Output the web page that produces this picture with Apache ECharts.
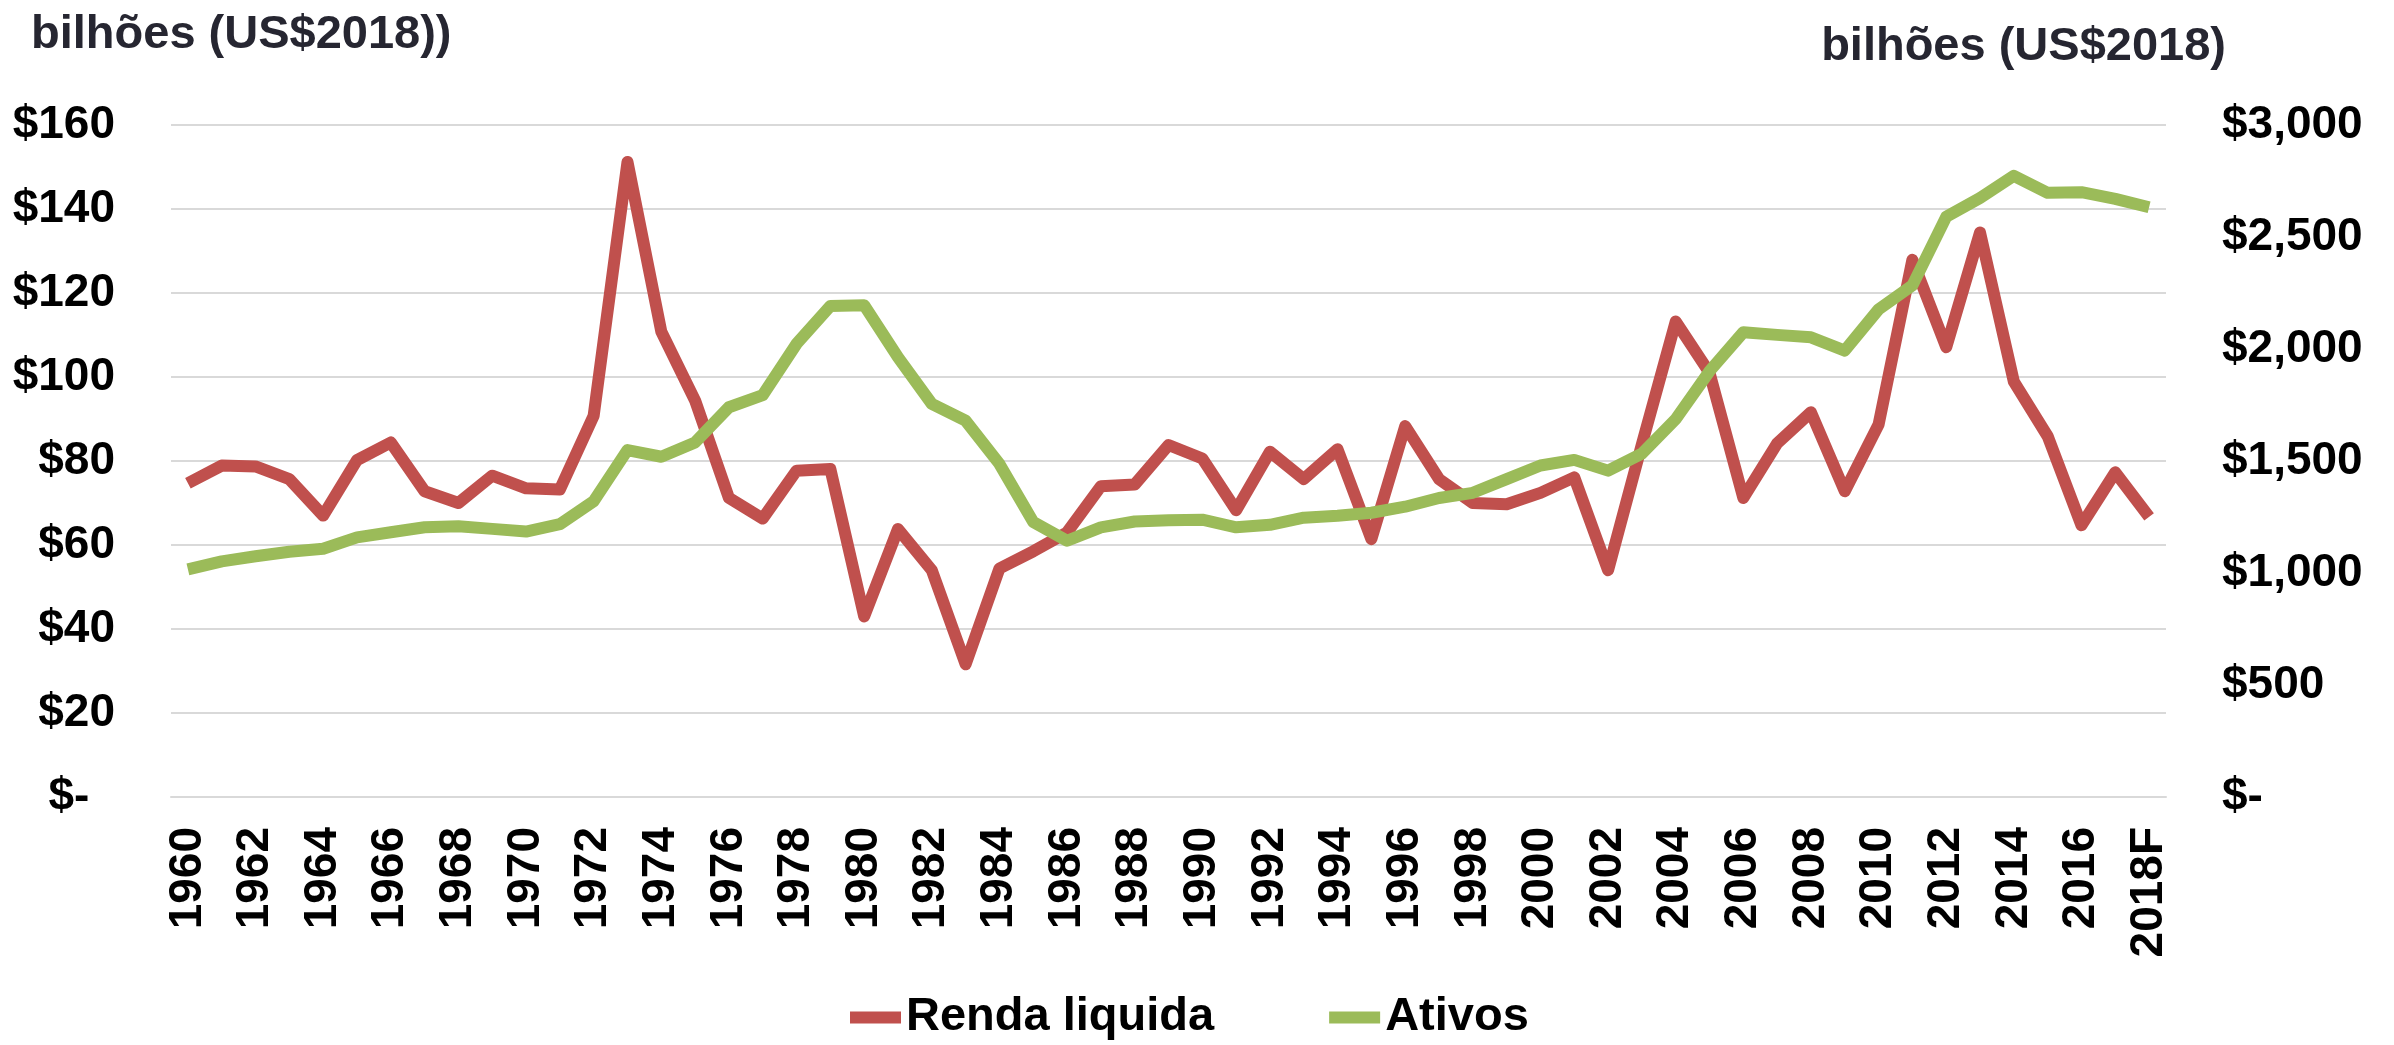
<!DOCTYPE html>
<html>
<head>
<meta charset="utf-8">
<script src="https://cdn.jsdelivr.net/npm/echarts@6.0.0/dist/echarts.min.js"></script>
<style>
  html, body { margin: 0; padding: 0; background: #fff; }
  #chart { width: 2394px; height: 1045px; }
</style>
</head>
<body>
<div id="chart"></div>
<script>
const years = ['1960', '1961', '1962', '1963', '1964', '1965', '1966', '1967', '1968', '1969',
  '1970', '1971', '1972', '1973', '1974', '1975', '1976', '1977', '1978', '1979',
  '1980', '1981', '1982', '1983', '1984', '1985', '1986', '1987', '1988', '1989',
  '1990', '1991', '1992', '1993', '1994', '1995', '1996', '1997', '1998', '1999',
  '2000', '2001', '2002', '2003', '2004', '2005', '2006', '2007', '2008', '2009',
  '2010', '2011', '2012', '2013', '2014', '2015', '2016', '2017', '2018F']

// renda liquida, eixo esquerdo (bilhoes US$2018)
const rendaLiquida = [74.7, 78.9, 78.7, 75.7, 67.0, 80.2, 84.4, 72.8, 70.0, 76.5,
  73.5, 73.2, 90.8, 151.2, 110.8, 94.4, 71.2, 66.3, 77.7, 78.1,
  43.0, 63.8, 54.0, 31.6, 54.4, 58.5, 63.0, 74.0, 74.4, 83.8,
  80.6, 68.3, 82.2, 75.7, 82.8, 61.4, 88.3, 75.7, 70.0, 69.7,
  72.4, 76.1, 54.0, 84.0, 113.2, 101.0, 71.2, 84.2, 91.6, 72.8,
  88.7, 127.9, 107.1, 134.4, 98.9, 85.9, 64.7, 77.3, 66.7]

// ativos, eixo direito
const ativos = [1016, 1052, 1075, 1095, 1108, 1159, 1182, 1204, 1209, 1197,
  1185, 1218, 1320, 1549, 1519, 1583, 1740, 1794, 2023, 2192,
  2195, 1963, 1755, 1680, 1487, 1228, 1144, 1204, 1230, 1235,
  1238, 1204, 1215, 1247, 1256, 1269, 1296, 1335, 1358, 1419,
  1480, 1505, 1457, 1533, 1687, 1901, 2075, 2063, 2052, 1993,
  2177, 2284, 2590, 2674, 2773, 2697, 2700, 2670, 2633]

const seriesNames = ['Renda liquida', 'Ativos']
const leftName = 'bilhões (US$2018))'
const rightName = 'bilhões (US$2018)'

const font = 'Liberation Sans, Arial, Helvetica, sans-serif'

function money(v) {
    if (v === 0) return '$-  '
    return '$' + String(v).replace(/\B(?=(\d{3})+(?!\d))/g, ',')
}

const chart = echarts.init(document.getElementById('chart'))
chart.setOption({
    animation: false,
    backgroundColor: '#ffffff',
    color: ['#C0504D', '#9BBB59'],
    grid: {left: 171, right: 228, top: 125, bottom: 248, containLabel: false},
    legend: {
        data: seriesNames,
        left: 850,
        top: 994,
        padding: 0,
        icon: 'rect',
        itemWidth: 51,
        itemHeight: 12,
        itemGap: 115,
        textStyle: {fontFamily: font, fontWeight: 'bold', fontSize: 47, color: '#000'}
    },
    graphic: [
        {
            type: 'text', left: 31, top: 12,
            style: {text: leftName, fontFamily: font, fontWeight: 'bold', fontSize: 47, fill: '#262631'}
        },
        {
            type: 'text', right: 2394 - 2226, top: 24,
            style: {text: rightName, fontFamily: font, fontWeight: 'bold', fontSize: 47, fill: '#262631'}
        }
    ],
    xAxis: {
        type: 'category',
        data: years,
        boundaryGap: true,
        axisTick: {show: false},
        axisLine: {lineStyle: {color: '#d9d9d9', width: 2}},
        axisLabel: {
            interval: 1,
            rotate: 90,
            margin: 30,
            fontFamily: font,
            fontWeight: 'bold',
            fontSize: 46,
            color: '#000'
        }
    },
    yAxis: [
        {
            type: 'value',
            min: 0, max: 160, interval: 20,
            axisLine: {show: false},
            axisTick: {show: false},
            splitLine: {lineStyle: {color: '#d9d9d9', width: 2}},
            axisLabel: {
                margin: 56,
                formatter: money,
                fontFamily: font, fontWeight: 'bold', fontSize: 46, color: '#000'
            }
        },
        {
            type: 'value',
            min: 0, max: 3000, interval: 500,
            position: 'right',
            axisLine: {show: false},
            axisTick: {show: false},
            splitLine: {show: false},
            axisLabel: {
                margin: 56,
                formatter: money,
                fontFamily: font, fontWeight: 'bold', fontSize: 46, color: '#000'
            }
        }
    ],
    series: [
        {
            name: seriesNames[0],
            type: 'line',
            yAxisIndex: 0,
            data: rendaLiquida,
            showSymbol: false,
            lineStyle: {width: 12, join: 'round', cap: 'butt'}
        },
        {
            name: seriesNames[1],
            type: 'line',
            yAxisIndex: 1,
            data: ativos,
            showSymbol: false,
            lineStyle: {width: 12, join: 'round', cap: 'butt'}
        }
    ]
})
</script>
</body>
</html>
